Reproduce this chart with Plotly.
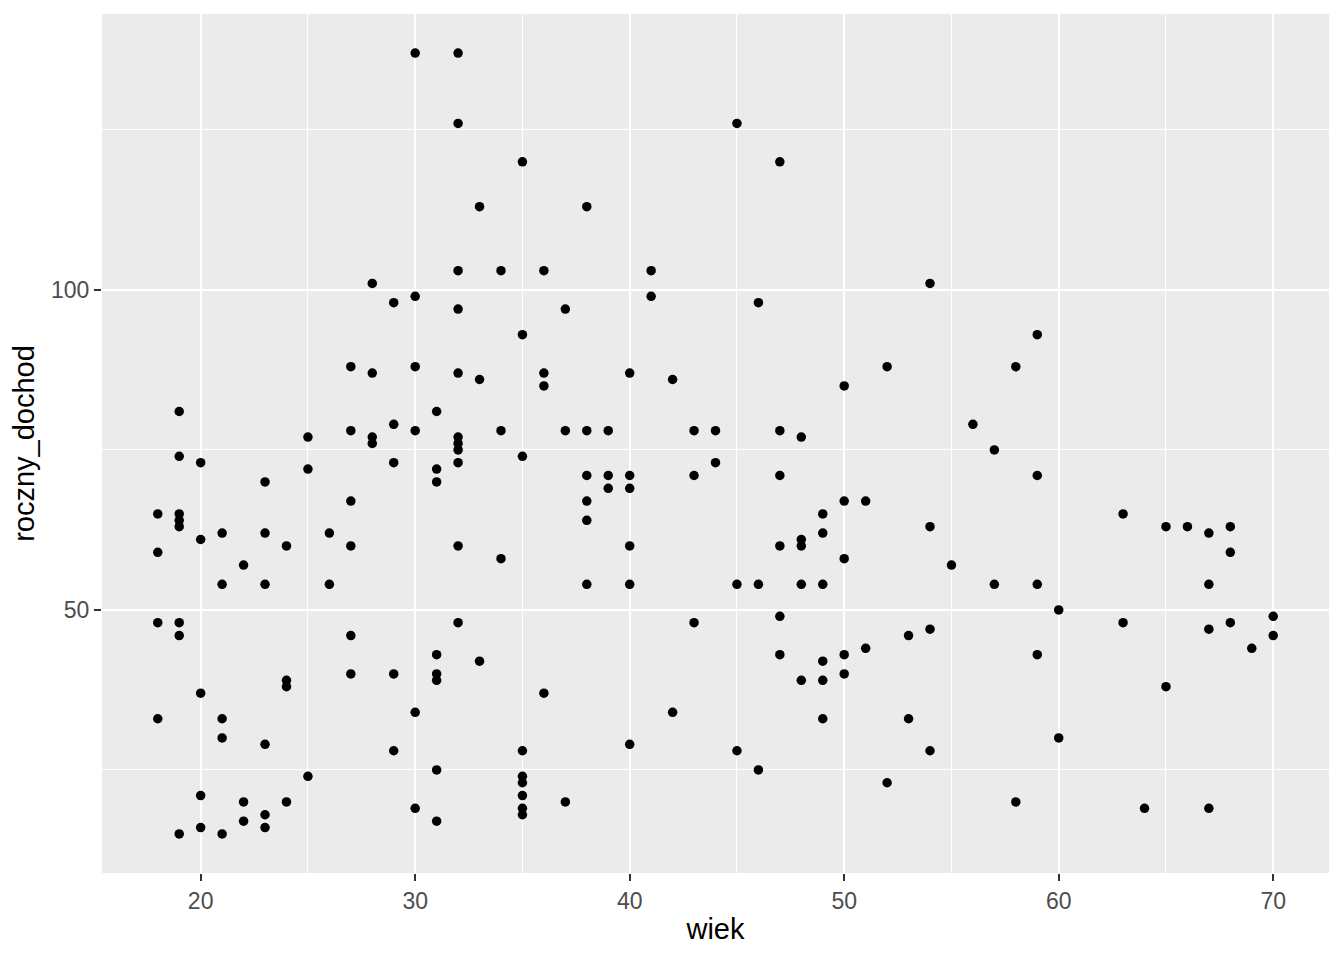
import plotly.graph_objects as go

# age groups and incomes
wiek_groups = [18, 19, 20, 21, 22, 23, 24, 25, 26, 27, 28, 29, 30, 31, 32, 33, 34, 35,
               36, 37, 38, 39, 40, 41, 42, 43, 44, 45, 46, 47, 48, 49, 50, 51, 52, 53,
               54, 55, 56, 57, 58, 59, 60, 63, 64, 65, 66, 67, 68, 69, 70]
dochod_groups = [
    [65, 59, 48, 33],
    [81, 74, 65, 64, 63, 48, 46, 15],
    [73, 61, 37, 21, 16],
    [62, 54, 33, 30, 15],
    [57, 20, 17],
    [70, 62, 54, 29, 18, 16],
    [60, 39, 38, 20],
    [77, 72, 24],
    [62, 54],
    [88, 78, 67, 60, 46, 40],
    [101, 87, 77, 76],
    [98, 79, 73, 40, 28],
    [137, 99, 88, 78, 34, 19],
    [81, 72, 70, 43, 40, 39, 25, 17],
    [137, 126, 103, 97, 87, 77, 76, 75, 73, 60, 48],
    [113, 86, 42],
    [103, 78, 58],
    [120, 93, 74, 28, 24, 23, 21, 19, 18],
    [103, 87, 85, 37],
    [97, 78, 20],
    [113, 78, 71, 67, 64, 54],
    [78, 71, 69],
    [87, 71, 69, 60, 54, 29],
    [103, 99],
    [86, 34],
    [78, 71, 48],
    [78, 73],
    [126, 54, 28],
    [98, 54, 25],
    [120, 78, 71, 60, 49, 43],
    [77, 61, 60, 54, 39],
    [65, 62, 54, 42, 39, 33],
    [85, 67, 58, 43, 40],
    [67, 44],
    [88, 23],
    [46, 33],
    [101, 63, 47, 28],
    [57],
    [79],
    [75, 54],
    [88, 20],
    [93, 71, 54, 43],
    [50, 30],
    [65, 48],
    [19],
    [63, 38],
    [63],
    [62, 54, 47, 19],
    [63, 59, 48],
    [44],
    [49, 46],
]

x_ticks = [20, 30, 40, 50, 60, 70]
x_minor = [25, 35, 45, 55, 65]
y_ticks = [50, 100]
y_minor = [25, 75, 125]

wiek = []
roczny_dochod = []
for a, vals in zip(wiek_groups, dochod_groups):
    for v in vals:
        wiek.append(a)
        roczny_dochod.append(v)

xmin, xmax = min(wiek), max(wiek)
ymin, ymax = min(roczny_dochod), max(roczny_dochod)
xpad = (xmax - xmin) * 0.05
ypad = (ymax - ymin) * 0.05

FONT = "Liberation Sans, Arial, sans-serif"

fig = go.Figure(
    go.Scatter(
        x=wiek, y=roczny_dochod, mode="markers",
        marker=dict(color="black", size=9.5, line=dict(width=0)),
        hoverinfo="x+y",
    )
)

axis_common = dict(
    showline=False, zeroline=False,
    gridcolor="white", gridwidth=2,
    ticks="outside", ticklen=7, tickwidth=1.5, tickcolor="#333333",
    tickfont=dict(family=FONT, size=23, color="#4D4D4D"),
    automargin=False,
)

fig.update_layout(
    width=1328, height=944,
    margin=dict(l=94, r=7, t=6, b=79),
    paper_bgcolor="white", plot_bgcolor="#EBEBEB",
    showlegend=False,
    font=dict(family=FONT),
    xaxis=dict(
        range=[xmin - xpad, xmax + xpad],
        tickmode="array", tickvals=x_ticks, ticktext=[str(t) for t in x_ticks],
        minor=dict(tickmode="array", tickvals=x_minor, showgrid=True,
                   gridcolor="white", gridwidth=1, ticks=""),
        title=dict(text="wiek", font=dict(family=FONT, size=29, color="black"), standoff=6),
        **axis_common,
    ),
    yaxis=dict(
        range=[ymin - ypad, ymax + ypad],
        tickmode="array", tickvals=y_ticks, ticktext=[str(t) for t in y_ticks],
        minor=dict(tickmode="array", tickvals=y_minor, showgrid=True,
                   gridcolor="white", gridwidth=1, ticks=""),
        title=dict(text="roczny_dochod", font=dict(family=FONT, size=29, color="black"), standoff=10),
        **axis_common,
    ),
)

fig.write_html("out.html")
